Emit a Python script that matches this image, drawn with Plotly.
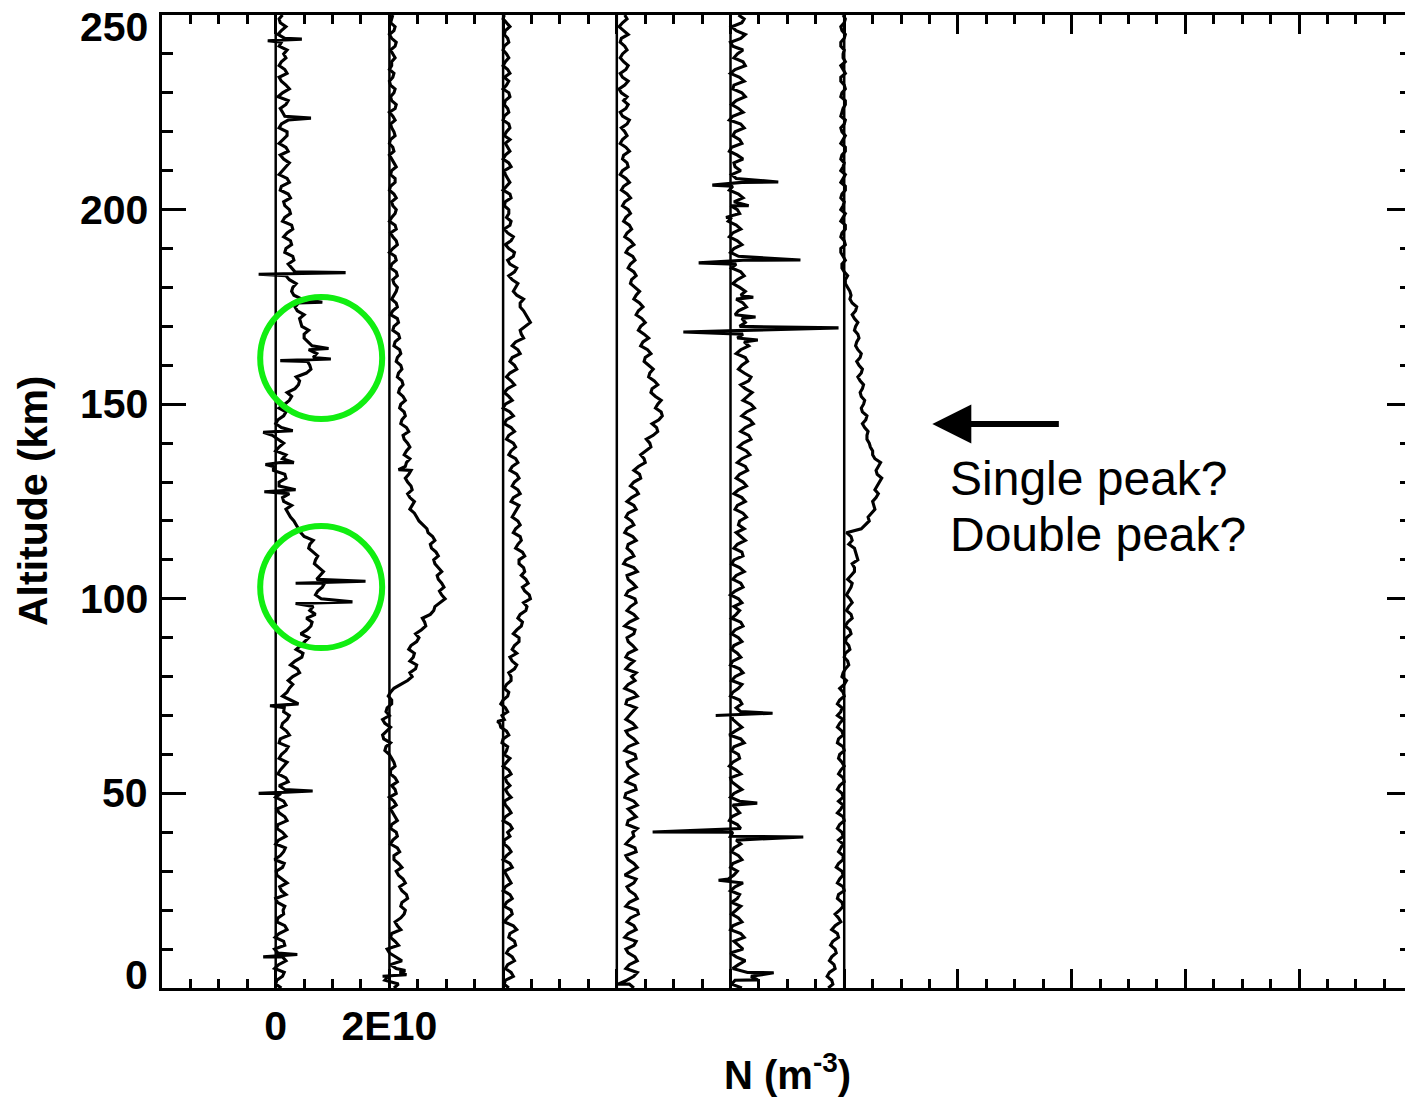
import plotly.graph_objects as go

# ---------------- data (density in units of 1E10 m^-3) ----------------
ALT = list(range(0, 251, 2))           # even-km altitude grid
ALT_ODD = list(range(1, 250, 2))       # odd-km altitude grid
OFFSETS = [0, 2, 4, 6, 8, 10]          # horizontal offset of each profile (1E10 m^-3)

P1 = [0.10, 0.02, 0.15, 0.05, 0.12, -0.02, 0.14, 0.06, 0.16, 0.04,
      0.13, 0.03, 0.18, 0.07, 0.11, 0.01, 0.15, 0.08, 0.17, 0.05,
      0.12, 0.04, 0.16, 0.02, 0.14, 0.09, 0.06, 0.18, 0.08, 0.20,
      0.10, 0.22, 0.08, 0.19, 0.12, 0.24, 0.15, 0.26, 0.20, 0.30,
      0.30, 0.38, 0.34, 0.48, 0.44, 0.58, 0.55, 0.64, 0.70, 0.66,
      0.80, 0.74, 0.86, 0.78, 0.76, 0.70, 0.66, 0.60, 0.50, 0.40,
      0.32, 0.22, 0.28, 0.12, 0.20, 0.06, 0.16, -0.04, 0.12, 0.00,
      0.14, -0.06, 0.10, 0.04, 0.18, 0.16, 0.28, 0.34, 0.42, 0.54,
      0.60, 0.66, 0.58, 0.56, 0.50, 0.46, 0.42, 0.38, 0.40, 0.32,
      0.30, 0.24, 0.34, 0.22, 0.30, 0.18, 0.26, 0.20, 0.28, 0.16,
      0.24, 0.14, 0.22, 0.10, 0.20, 0.12, 0.24, 0.08, 0.18, 0.14,
      0.20, 0.10, 0.16, 0.08, 0.22, 0.12, 0.18, 0.06, 0.16, 0.10,
      0.14, 0.06, 0.16, 0.10, 0.08, 0.12]
P1_ODD = [0.00, 0.12, -0.02, 0.18, 0.04, 0.16, -0.01, 0.20, 0.02, 0.14,
          0.16, 0.00, 0.10, 0.20, 0.02, 0.12, -0.02, 0.14, 0.00, 0.18,
          0.02, 0.20, 0.06, 0.18, 0.00, 0.16, 0.22, 0.04, 0.14, 0.06,
          0.18, 0.06, 0.24, 0.10, 0.20, 0.14, 0.28, 0.12, 0.24, 0.22,
          0.42, 0.26, 0.46, 0.36, 0.52, 0.44, 0.62, 0.54, 0.60, 0.76,
          0.70, 0.82, 0.72, 0.84, 0.68, 0.74, 0.58, 0.66, 0.44, 0.36,
          0.26, 0.18, 0.14, 0.24, 0.06, 0.18, -0.04, 0.08, 0.18, 0.06,
          0.04, 0.16, 0.00, 0.14, 0.06, 0.24, 0.20, 0.40, 0.36, 0.62,
          0.56, 0.72, 0.64, 0.50, 0.58, 0.44, 0.50, 0.34, 0.46, 0.28,
          0.36, 0.18, 0.28, 0.32, 0.16, 0.28, 0.14, 0.30, 0.12, 0.26,
          0.16, 0.26, 0.08, 0.24, 0.06, 0.18, 0.14, 0.22, 0.06, 0.20,
          0.06, 0.22, 0.12, 0.18, 0.04, 0.24, 0.10, 0.20, 0.06, 0.18,
          0.20, 0.10, 0.04, 0.18, 0.06]
P1_SPIKES = [(8.0, -0.22), (8.6, 0.38), (50.0, -0.30), (50.6, 0.65),
             (72.5, -0.10), (73.0, 0.40), (98.8, 0.35), (99.2, 1.35),
             (104.0, 0.35), (104.5, 1.58), (127.5, -0.20), (128.0, 0.35),
             (134.5, -0.18), (135.0, 0.32), (142.8, -0.22), (143.2, 0.30),
             (161.2, 0.08), (161.6, 0.97), (164.3, 0.93), (176.2, 0.82),
             (183.4, -0.30), (183.8, 1.23), (223.5, 0.62),
             (243.4, -0.14), (243.8, 0.46)]

P2 = [0.08, -0.08, 0.18, 0.02, 0.12, -0.04, 0.10, 0.04, 0.14, 0.20,
      0.28, 0.22, 0.30, 0.18, 0.24, 0.12, 0.16, 0.08, 0.14, 0.06,
      0.12, 0.04, 0.10, 0.02, 0.08, 0.12, 0.04, 0.10, 0.02, 0.08,
      0.00, -0.06, -0.10, -0.04, -0.08, 0.00, -0.04, 0.04, 0.02, 0.20,
      0.40, 0.46, 0.36, 0.44, 0.38, 0.52, 0.56, 0.62, 0.72, 0.80,
      0.98, 0.88, 0.92, 0.84, 0.86, 0.78, 0.82, 0.72, 0.76, 0.66,
      0.52, 0.44, 0.40, 0.36, 0.40, 0.32, 0.34, 0.28, 0.36, 0.30,
      0.32, 0.24, 0.30, 0.22, 0.26, 0.20, 0.24, 0.18, 0.22, 0.16,
      0.20, 0.14, 0.18, 0.10, 0.16, 0.08, 0.14, 0.06, 0.12, 0.08,
      0.14, 0.06, 0.12, 0.04, 0.10, 0.06, 0.12, 0.02, 0.10, 0.04,
      0.12, 0.04, 0.08, 0.02, 0.10, 0.04, 0.08, 0.00, 0.06, 0.02,
      0.08, 0.02, 0.06, 0.10, 0.04, 0.08, 0.02, 0.06, 0.00, 0.04,
      0.06, 0.10, 0.04, 0.08, 0.02, 0.06]
P2_ODD = [0.16, -0.02, 0.12, 0.22, 0.00, 0.16, 0.02, 0.20, 0.10, 0.26,
          0.20, 0.32, 0.22, 0.28, 0.16, 0.22, 0.08, 0.18, 0.02, 0.14,
          0.02, 0.14, 0.06, 0.12, 0.00, 0.10, 0.14, 0.02, 0.10, 0.04,
          -0.08, 0.02, -0.12, 0.02, -0.12, -0.06, 0.04, -0.02, 0.08, 0.32,
          0.36, 0.48, 0.42, 0.34, 0.48, 0.46, 0.64, 0.58, 0.78, 0.90,
          0.92, 0.96, 0.86, 0.92, 0.80, 0.86, 0.74, 0.80, 0.68, 0.58,
          0.48, 0.36, 0.44, 0.32, 0.38, 0.28, 0.38, 0.30, 0.26, 0.36,
          0.26, 0.34, 0.20, 0.28, 0.18, 0.28, 0.16, 0.24, 0.14, 0.22,
          0.12, 0.20, 0.08, 0.18, 0.06, 0.16, 0.02, 0.14, 0.04, 0.12,
          0.08, 0.14, 0.02, 0.12, 0.00, 0.14, 0.06, 0.12, 0.00, 0.10,
          0.06, 0.12, 0.00, 0.10, 0.02, 0.12, 0.04, 0.08, 0.00, 0.10,
          0.04, 0.10, 0.00, 0.12, 0.02, 0.10, 0.00, 0.08, 0.04, 0.10,
          0.02, 0.12, 0.00, 0.10, 0.04]
P2_SPIKES = [(3.0, -0.12), (3.4, 0.30), (4.5, 0.28), (133.2, 0.16)]

P3 = [0.10, 0.04, 0.14, 0.08, 0.16, 0.10, 0.20, 0.12, 0.18, 0.08,
      0.14, 0.06, 0.12, 0.04, 0.10, 0.02, 0.12, 0.06, 0.10, 0.02,
      0.08, 0.12, 0.04, 0.10, 0.02, 0.08, 0.12, 0.04, 0.10, 0.06,
      0.02, 0.08, 0.00, 0.06, -0.06, -0.02, 0.04, 0.00, 0.10, 0.06,
      0.14, 0.20, 0.16, 0.24, 0.20, 0.28, 0.24, 0.34, 0.30, 0.42,
      0.48, 0.38, 0.44, 0.32, 0.36, 0.28, 0.34, 0.26, 0.30, 0.22,
      0.26, 0.20, 0.28, 0.18, 0.26, 0.20, 0.24, 0.16, 0.22, 0.14,
      0.18, 0.10, 0.14, 0.06, 0.12, 0.04, 0.10, 0.08, 0.14, 0.12,
      0.20, 0.16, 0.26, 0.22, 0.32, 0.38, 0.44, 0.36, 0.30, 0.24,
      0.22, 0.16, 0.20, 0.12, 0.18, 0.10, 0.14, 0.08, 0.12, 0.06,
      0.10, 0.04, 0.12, 0.06, 0.08, 0.02, 0.10, 0.04, 0.08, 0.12,
      0.06, 0.10, 0.02, 0.08, 0.04, 0.10, 0.06, 0.02, 0.08, 0.04,
      0.06, 0.02, 0.08, 0.04, 0.06, 0.02]
P3_ODD = [0.02, 0.18, 0.04, 0.20, 0.06, 0.22, 0.10, 0.24, 0.02, 0.16,
          0.02, 0.16, 0.00, 0.14, 0.06, 0.16, 0.00, 0.14, 0.02, 0.12,
          0.16, 0.00, 0.14, 0.04, 0.14, 0.04, 0.06, 0.14, 0.00, 0.12,
          0.06, -0.02, 0.10, -0.04, 0.02, 0.08, -0.04, 0.08, 0.02, 0.14,
          0.10, 0.24, 0.12, 0.16, 0.28, 0.18, 0.32, 0.26, 0.40, 0.36,
          0.46, 0.34, 0.40, 0.38, 0.28, 0.38, 0.22, 0.32, 0.18, 0.30,
          0.16, 0.24, 0.14, 0.30, 0.16, 0.28, 0.12, 0.26, 0.10, 0.22,
          0.06, 0.20, 0.02, 0.18, 0.00, 0.16, 0.02, 0.20, 0.06, 0.24,
          0.12, 0.30, 0.16, 0.36, 0.30, 0.48, 0.40, 0.30, 0.36, 0.18,
          0.26, 0.10, 0.24, 0.08, 0.20, 0.04, 0.18, 0.02, 0.14, 0.10,
          0.02, 0.14, 0.00, 0.12, 0.04, 0.14, 0.00, 0.12, 0.04, 0.02,
          0.12, 0.00, 0.10, 0.02, 0.12, 0.00, 0.10, 0.12, 0.00, 0.10,
          0.00, 0.10, 0.02, 0.12, 0.00]
P3_SPIKES = [(68.5, -0.10)]

P4 = [0.30, 0.18, 0.36, 0.22, 0.32, 0.16, 0.34, 0.20, 0.30, 0.24,
      0.36, 0.22, 0.32, 0.18, 0.34, 0.24, 0.30, 0.16, 0.32, 0.22,
      0.28, 0.18, 0.34, 0.20, 0.30, 0.16, 0.32, 0.22, 0.28, 0.18,
      0.32, 0.20, 0.30, 0.16, 0.28, 0.22, 0.34, 0.18, 0.30, 0.20,
      0.26, 0.16, 0.30, 0.20, 0.28, 0.18, 0.32, 0.22, 0.30, 0.24,
      0.32, 0.20, 0.28, 0.18, 0.30, 0.16, 0.26, 0.20, 0.28, 0.18,
      0.26, 0.20, 0.30, 0.26, 0.34, 0.30, 0.40, 0.38, 0.48, 0.52,
      0.58, 0.64, 0.70, 0.74, 0.78, 0.72, 0.68, 0.62, 0.66, 0.58,
      0.56, 0.50, 0.54, 0.46, 0.48, 0.42, 0.44, 0.38, 0.40, 0.34,
      0.32, 0.26, 0.30, 0.24, 0.28, 0.20, 0.24, 0.18, 0.22, 0.16,
      0.20, 0.14, 0.18, 0.12, 0.16, 0.10, 0.18, 0.12, 0.16, 0.10,
      0.14, 0.18, 0.10, 0.16, 0.12, 0.08, 0.14, 0.10, 0.16, 0.12,
      0.10, 0.14, 0.08, 0.12, 0.10, 0.14]
P4_ODD = [0.22, 0.30, 0.16, 0.36, 0.20, 0.30, 0.14, 0.34, 0.18, 0.38,
          0.16, 0.36, 0.22, 0.30, 0.14, 0.36, 0.20, 0.34, 0.16, 0.30,
          0.36, 0.20, 0.26, 0.36, 0.14, 0.34, 0.16, 0.36, 0.20, 0.34,
          0.14, 0.36, 0.20, 0.34, 0.16, 0.28, 0.16, 0.36, 0.14, 0.32,
          0.34, 0.22, 0.16, 0.34, 0.20, 0.30, 0.14, 0.36, 0.18, 0.34,
          0.16, 0.34, 0.20, 0.36, 0.12, 0.30, 0.18, 0.34, 0.14, 0.30,
          0.16, 0.34, 0.18, 0.38, 0.24, 0.42, 0.30, 0.50, 0.42, 0.60,
          0.52, 0.72, 0.62, 0.80, 0.68, 0.78, 0.60, 0.72, 0.56, 0.64,
          0.48, 0.60, 0.42, 0.56, 0.38, 0.50, 0.34, 0.46, 0.30, 0.40,
          0.24, 0.34, 0.20, 0.32, 0.16, 0.30, 0.14, 0.26, 0.12, 0.24,
          0.10, 0.24, 0.08, 0.22, 0.06, 0.20, 0.10, 0.22, 0.06, 0.18,
          0.08, 0.22, 0.06, 0.20, 0.18, 0.04, 0.20, 0.06, 0.20, 0.06,
          0.18, 0.06, 0.20, 0.04, 0.18]
P4_SPIKES = [(1.0, 0.02)]

P5 = [0.20, 0.08, 0.30, 0.14, 0.10, 0.22, 0.06, 0.18, 0.04, 0.14,
      0.10, 0.02, 0.16, 0.08, -0.04, 0.12, 0.04, 0.14, 0.06, 0.10,
      0.04, 0.12, 0.02, 0.10, 0.16, 0.06, 0.12, 0.00, 0.10, 0.04,
      0.14, 0.06, 0.18, 0.08, 0.12, 0.02, 0.10, 0.16, 0.04, 0.20,
      0.08, 0.16, 0.04, 0.12, 0.06, 0.14, 0.08, 0.18, 0.10, 0.06,
      0.14, 0.08, 0.18, 0.10, 0.16, 0.06, 0.20, 0.12, 0.18, 0.24,
      0.16, 0.22, 0.12, 0.20, 0.14, 0.22, 0.16, 0.26, 0.20, 0.28,
      0.22, 0.32, 0.26, 0.34, 0.28, 0.36, 0.30, 0.26, 0.32, 0.24,
      0.20, 0.26, 0.18, 0.24, 0.22, 0.16, 0.20, 0.14, 0.22, 0.18,
      0.16, 0.12, 0.18, 0.10, 0.14, 0.06, 0.12, 0.04, 0.10, 0.02,
      0.12, 0.06, 0.14, 0.04, 0.10, 0.18, 0.06, 0.12, 0.02, 0.16,
      0.08, 0.18, 0.04, 0.14, 0.10, 0.20, 0.06, 0.16, 0.08, 0.22,
      0.12, 0.04, 0.18, 0.10, 0.20, 0.14]
P5_ODD = [0.02, 0.36, 0.04, 0.26, 0.00, 0.14, 0.24, 0.00, 0.20, 0.02,
          0.18, 0.12, 0.00, 0.22, 0.06, 0.00, 0.20, 0.02, 0.18, 0.00,
          0.18, -0.02, 0.16, 0.04, 0.00, 0.20, 0.02, 0.18, -0.02, 0.16,
          0.02, 0.24, -0.02, 0.20, 0.04, 0.18, 0.20, 0.00, 0.14, 0.02,
          0.22, 0.00, 0.18, 0.02, 0.20, 0.02, 0.22, 0.02, 0.16, 0.20,
          0.00, 0.22, 0.04, 0.24, 0.02, 0.22, 0.06, 0.26, 0.10, 0.14,
          0.28, 0.08, 0.26, 0.06, 0.28, 0.10, 0.30, 0.12, 0.34, 0.14,
          0.36, 0.18, 0.40, 0.20, 0.42, 0.22, 0.38, 0.18, 0.36, 0.14,
          0.30, 0.10, 0.32, 0.12, 0.30, 0.26, 0.08, 0.28, 0.10, 0.26,
          0.04, 0.24, 0.02, 0.22, 0.00, 0.20, -0.02, 0.18, -0.04, 0.16,
          0.00, 0.22, -0.02, 0.20, 0.02, 0.08, 0.22, -0.02, 0.20, 0.04,
          0.24, -0.02, 0.22, 0.02, 0.26, 0.04, 0.24, 0.00, 0.26, 0.06,
          0.22, 0.00, 0.26, 0.02, 0.24]
P5_SPIKES = [(2.1, 0.48), (3.9, 0.76), (27.7, -0.21), (38.8, 1.28),
             (40.1, -1.37), (47.5, 0.47), (70.0, -0.26), (70.6, 0.74),
             (166.5, 0.48), (168.55, -0.83), (169.6, 1.90), (172.4, 0.44),
             (177.5, 0.40), (186.3, -0.56), (187.05, 1.23), (198.0, -0.08),
             (201.0, 0.32), (206.3, -0.32), (207.1, 0.84)]

P6 = [-0.28, -0.22, -0.26, -0.18, -0.22, -0.16, -0.20, -0.12, -0.16, -0.10,
      -0.08, -0.04, -0.10, -0.02, -0.08, -0.04, -0.10, -0.02, -0.06, -0.10,
      -0.04, -0.08, -0.02, -0.06, -0.10, -0.04, -0.08, -0.02, -0.06, -0.04,
      -0.08, -0.02, -0.10, -0.04, -0.08, -0.12, -0.04, -0.08, -0.02, 0.00,
      -0.04, 0.02, 0.06, 0.02, 0.08, 0.04, 0.10, 0.06, 0.12, 0.08,
      0.10, 0.08, 0.14, 0.12, 0.18, 0.24, 0.20, 0.08, 0.12, 0.30,
      0.44, 0.48, 0.52, 0.56, 0.54, 0.62, 0.58, 0.60, 0.54, 0.50,
      0.44, 0.40, 0.36, 0.38, 0.32, 0.34, 0.30, 0.32, 0.28, 0.30,
      0.26, 0.28, 0.24, 0.22, 0.24, 0.20, 0.18, 0.20, 0.14, 0.12,
      0.06, 0.02, 0.00, -0.04, -0.02, -0.06, 0.00, -0.04, 0.02, -0.02,
      -0.06, 0.00, -0.04, 0.02, -0.02, -0.06, 0.00, -0.04, 0.02, -0.02,
      -0.04, 0.00, -0.06, -0.02, 0.02, -0.04, 0.00, -0.06, -0.02, 0.02,
      -0.02, -0.06, 0.00, -0.04, 0.00, -0.02]
P6_ODD = [-0.20, -0.30, -0.16, -0.26, -0.14, -0.24, -0.10, -0.22, -0.06, -0.16,
          -0.02, -0.12, 0.00, -0.12, -0.02, -0.14, -0.02, -0.10, -0.02, -0.02,
          -0.12, 0.00, -0.12, -0.02, -0.02, -0.12, 0.00, -0.10, 0.00, -0.10,
          0.00, -0.12, -0.02, -0.12, -0.02, -0.06, -0.12, 0.00, -0.08, 0.04,
          -0.02, 0.08, 0.00, 0.10, 0.02, 0.12, 0.02, 0.14, 0.04, 0.14,
          0.04, 0.12, 0.06, 0.18, 0.14, 0.22, 0.18, 0.14, 0.04, 0.38,
          0.42, 0.54, 0.50, 0.60, 0.58, 0.66, 0.56, 0.64, 0.50, 0.46,
          0.40, 0.42, 0.32, 0.40, 0.30, 0.36, 0.28, 0.34, 0.24, 0.32,
          0.22, 0.30, 0.20, 0.26, 0.18, 0.24, 0.14, 0.22, 0.10, 0.10,
          0.02, 0.06, -0.04, 0.02, -0.06, 0.02, -0.06, 0.02, -0.06, 0.02,
          -0.02, -0.06, 0.02, -0.06, 0.02, -0.02, -0.06, 0.02, -0.06, 0.02,
          -0.06, 0.02, -0.04, 0.02, -0.06, 0.02, -0.06, 0.02, -0.06, -0.02,
          0.00, -0.06, 0.02, -0.06, 0.02]
P6_SPIKES = []

PROFILES = [(P1, P1_ODD, P1_SPIKES), (P2, P2_ODD, P2_SPIKES), (P3, P3_ODD, P3_SPIKES),
            (P4, P4_ODD, P4_SPIKES), (P5, P5_ODD, P5_SPIKES), (P6, P6_ODD, P6_SPIKES)]

X_TICKS = [-2, 0, 2, 4, 6, 8, 10, 12, 14, 16, 18, 20]
X_TICKTEXT = ["", "0", "2E10", "", "", "", "", "", "", "", "", ""]
Y_TICKS = [0, 50, 100, 150, 200, 250]
Y_TICKTEXT = ["0", "50", "100", "150", "200", "250"]
Y_RANGE = [0, 250]
X_RANGE = [-2, 19.864]

# ---------------- figure ----------------
fig = go.Figure()
FONT = "Liberation Sans, Arial, Helvetica, sans-serif"

# zero (baseline) line of every profile
for off in OFFSETS:
    fig.add_trace(go.Scatter(x=[off, off], y=Y_RANGE, mode="lines",
                             line=dict(color="black", width=2.5),
                             showlegend=False, hoverinfo="skip"))

for off, (even, odd, spikes) in zip(OFFSETS, PROFILES):
    pts = sorted(list(zip(ALT, even)) + list(zip(ALT_ODD, odd)) + list(spikes),
                 key=lambda p: p[0])
    fig.add_trace(go.Scatter(x=[off + v for _, v in pts], y=[a for a, _ in pts],
                             mode="lines", line=dict(color="black", width=3.1),
                             showlegend=False))

# invisible helper so the right-hand tick axis is drawn
fig.add_trace(go.Scatter(x=[X_RANGE[0]], y=[Y_RANGE[0]], yaxis="y2", mode="markers",
                         marker=dict(opacity=0), showlegend=False, hoverinfo="skip"))

fig.update_layout(
    width=1405, height=1097,
    margin=dict(l=162, r=0, t=15, b=109, autoexpand=False),
    paper_bgcolor="white", plot_bgcolor="white",
    font=dict(family=FONT, color="black"),
    xaxis=dict(range=X_RANGE, tickmode="array", tickvals=X_TICKS, ticktext=X_TICKTEXT,
               ticks="inside", ticklen=19, tickwidth=3, tickcolor="black",
               minor=dict(tickmode="linear", tick0=0, dtick=0.5, ticks="inside",
                          ticklen=9, tickwidth=2.5, tickcolor="black"),
               showline=True, linewidth=3, linecolor="black", mirror="ticks",
               showgrid=False, zeroline=False, automargin=False,
               tickfont=dict(size=41, family=FONT, weight="bold"),
               ticklabelstandoff=0),
    yaxis=dict(range=Y_RANGE, tickmode="linear", tick0=0, dtick=50,
               ticks="inside", ticklen=24, tickwidth=3, tickcolor="black",
               minor=dict(tickmode="linear", tick0=0, dtick=10, ticks="inside",
                          ticklen=11, tickwidth=2.5, tickcolor="black"),
               showline=True, linewidth=3, linecolor="black", mirror=False,
               showgrid=False, zeroline=False, showticklabels=False, automargin=False),
    yaxis2=dict(range=Y_RANGE, overlaying="y", side="right", anchor="x",
                tickmode="linear", tick0=0, dtick=50,
                ticks="inside", ticklen=18, tickwidth=3, tickcolor="black",
                minor=dict(tickmode="linear", tick0=0, dtick=10, ticks="inside",
                           ticklen=5, tickwidth=2.5, tickcolor="black"),
                showline=False, showgrid=False, zeroline=False,
                showticklabels=False, automargin=False),
)

# y tick labels (end labels pulled inside like the original)
for v, t in zip(Y_TICKS, Y_TICKTEXT):
    shift = -12 if v == Y_RANGE[1] else (13 if v == Y_RANGE[0] else 0)
    fig.add_annotation(x=0, xref="paper", y=v, yref="y", text=t, showarrow=False,
                       xanchor="right", yanchor="middle", xshift=-12, yshift=shift,
                       font=dict(size=41, family=FONT, weight="bold", color="black"))

# axis titles
fig.add_annotation(x=-0.1038, xref="paper", y=0.5015, yref="paper", text="Altitude (km)",
                   textangle=-90, showarrow=False, xanchor="center", yanchor="middle",
                   font=dict(size=41, family=FONT, weight="bold", color="black"))
fig.add_annotation(x=9.0, xref="x", y=-0.0863, yref="paper", text="N (m<sup>-3</sup>)",
                   showarrow=False, xanchor="center", yanchor="middle",
                   font=dict(size=40, family=FONT, weight="bold", color="black"))

# green circles
for cx, cy in [(0.80, 161.9), (0.80, 103.0)]:
    fig.add_shape(type="circle", xref="x", yref="y", xsizemode="pixel", ysizemode="pixel",
                  xanchor=cx, yanchor=cy, x0=-61, x1=61, y0=-61, y1=61,
                  line=dict(color="#11EE11", width=6))

# arrow and question text
fig.add_annotation(x=11.55, y=144.9, xref="x", yref="y", ax=128, ay=0, text="",
                   showarrow=True, arrowhead=2, arrowsize=1.3, arrowwidth=6,
                   arrowcolor="black")
fig.add_annotation(x=11.83, y=131.0, xref="x", yref="y", text="Single peak?",
                   showarrow=False, xanchor="left", yanchor="middle",
                   font=dict(size=48, family=FONT, color="black"))
fig.add_annotation(x=11.83, y=116.4, xref="x", yref="y", text="Double peak?",
                   showarrow=False, xanchor="left", yanchor="middle",
                   font=dict(size=48, family=FONT, color="black"))

fig.write_html("out.html")
